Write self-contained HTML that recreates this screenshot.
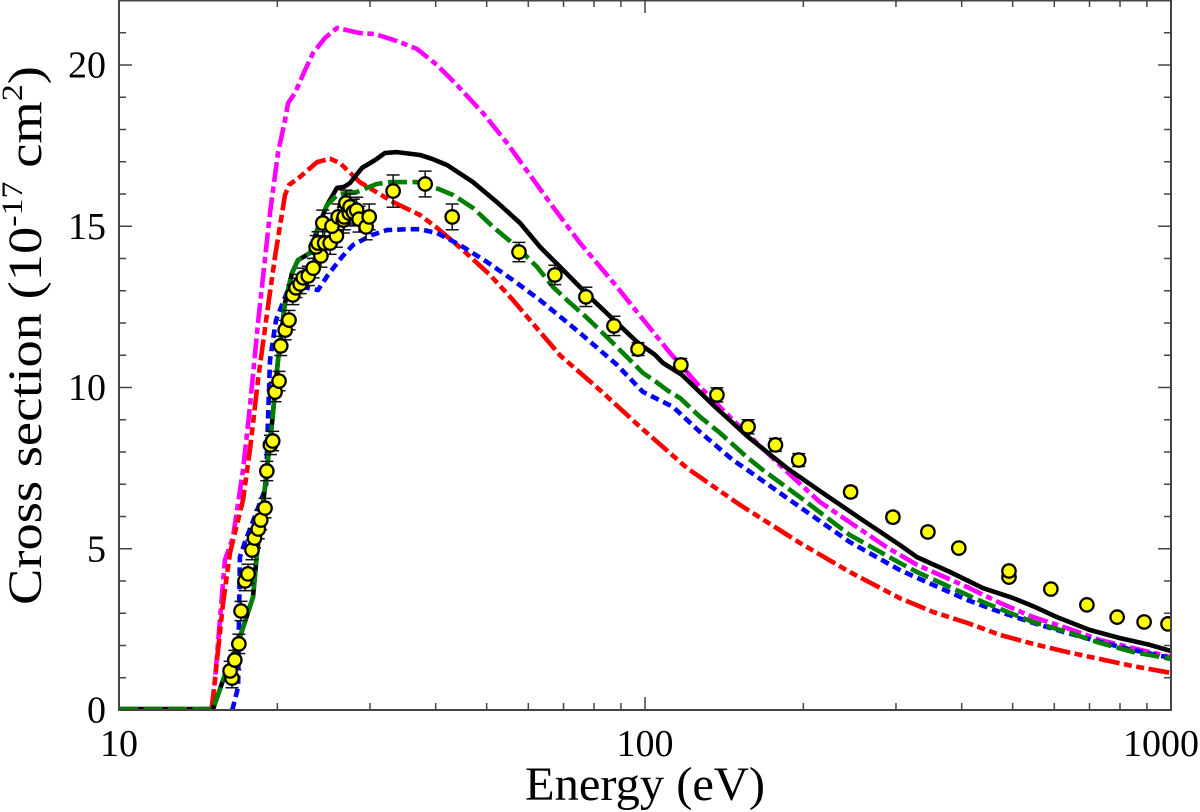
<!DOCTYPE html>
<html>
<head>
<meta charset="utf-8">
<title>Cross section vs energy</title>
<style>
html,body{margin:0;padding:0;background:#fff;}
svg{display:block;}
text{font-family:"Liberation Serif","DejaVu Serif",serif;fill:#000;}
</style>
</head>
<body>
<svg id="chart" xmlns="http://www.w3.org/2000/svg" width="1200" height="812" viewBox="0 0 1200 812">
  <defs><clipPath id="plot-clip"><rect x="119" y="0" width="1052" height="710"/></clipPath></defs>
  <g id="series-layer" clip-path="url(#plot-clip)"></g>
  <g id="points-layer" clip-path="url(#plot-clip)"></g>
  <rect x="119" y="0.5" width="1052" height="709.5" fill="none" stroke="#444" stroke-width="2"/>
  <g id="ticks-layer"></g>
  <g id="labels-layer"></g>
  <text x="645" y="800" font-size="48" text-anchor="middle" textLength="240" lengthAdjust="spacingAndGlyphs">Energy (eV)</text>
  <text transform="translate(41,605) rotate(-90) scale(1.135,1)" font-size="48">Cross section (10<tspan font-size="30" dy="-19">-17</tspan><tspan dy="19"> cm</tspan><tspan font-size="30" dy="-19">2</tspan><tspan dy="19">)</tspan></text>
</svg>
<script>
const pointEnergy = [16.4,16.26,16.6,16.9,17.06,17.36,17.59,17.9,18.1,18.4,18.6,18.95,19.1,19.4,19.6,19.8,20.15,20.3,20.7,21.05,21.4,21.7,22.1,22.4,22.9,23.4,24.2,23.7,23.9,24.6,25.2,25.9,24.4,25.4,26.1,26.7,26.8,27.4,27.0,27.5,27.9,28.3,28.6,29.5,29.9,33.2,38.2,43.0,57.6,67.4,77.2,87.3,97,117,137,157,177,196,246,296,345,395,492,492,591,692,790,889,987];
const pointSigma = [0.99,1.21,1.55,2.05,3.07,4.0,4.22,4.96,5.33,5.61,5.89,6.26,7.41,8.22,8.34,9.86,10.2,11.29,11.78,12.09,12.87,13.09,13.21,13.4,13.46,13.7,14.08,14.36,14.48,14.48,14.48,14.7,15.1,15.0,15.29,15.19,15.29,15.41,15.72,15.6,15.44,15.5,15.22,14.98,15.29,16.09,16.31,15.29,14.2,13.49,12.81,11.91,11.19,10.7,9.77,8.78,8.22,7.75,6.76,5.98,5.52,5.02,4.12,4.31,3.75,3.26,2.88,2.73,2.67];
const pointError = [0.3,0.3,0.3,0.3,0.3,0.3,0.3,0.3,0.3,0.3,0.3,0.3,0.3,0.3,0.3,0.3,0.3,0.3,0.3,0.3,0.3,0.3,0.3,0.3,0.3,0.3,0.35,0.35,0.35,0.35,0.35,0.35,0.4,0.4,0.4,0.4,0.4,0.4,0.4,0.4,0.4,0.4,0.4,0.4,0.4,0.5,0.4,0.4,0.3,0.3,0.3,0.3,0.2,0.2,0.22,0.22,0.2,0.2,0.15,0.15,0.12,0.12,0.1,0.1,0.1,0.1,0.08,0.08,0.08];

const blackEnergy = [10,15.1,15.77,16.98,17.98,18.3,18.95,19.54,20.06,20.68,21.33,21.89,23.07,23.79,24.86,25.97,26.78,27.49,28.97,30.67,32.04,33.77,37.35,39.53,42.03,47.1,52.3,57.86,63.15,68.93,76.24,79.63,96.55,104.5,108.2,117.6,134.7,157,186.2,215,256,305,329,380,439,501,547,607,701,800,912,1000];
const blackSigma = [0.03,0.03,0.93,2.26,3.5,4.87,6.91,8.9,10.85,12.62,13.55,13.95,14.17,14.88,15.66,16.19,16.22,16.34,16.81,17.05,17.27,17.3,17.21,17.08,16.9,16.37,15.75,15.1,14.36,13.74,13.02,12.71,11.41,11.01,10.76,10.39,9.46,8.47,7.5,6.79,5.95,5.12,4.74,4.28,3.78,3.47,3.22,2.88,2.48,2.23,2.02,1.83];

const greenEnergy = [10,15.1,15.77,16.98,17.98,18.3,18.95,19.54,20.06,20.68,21.33,21.89,23.07,23.79,24.86,26.1,28.3,30.9,32.75,36.86,40.4,43.15,47.1,51.4,57.1,62.33,66.84,71.08,77.59,85.81,99.13,104.5,110.1,116.6,127.2,138.9,156.3,167.6,197,245,305,329,380,439,494,547,634,733,847,1000];
const greenSigma = [0.03,0.03,0.93,2.26,3.5,4.87,6.91,8.9,10.85,12.62,13.55,13.95,14.17,14.88,15.66,16.0,16.06,16.31,16.37,16.37,16.16,15.97,15.57,14.98,14.36,13.74,13.12,12.71,12.16,11.47,10.45,10.2,9.92,9.67,9.09,8.59,7.84,7.44,6.6,5.43,4.56,4.28,3.81,3.35,3.01,2.73,2.42,2.08,1.8,1.58];

const blueEnergy = [16.4,16.45,16.84,16.91,16.98,17.36,19.03,19.2,19.37,19.88,20.41,21.14,22.38,23.9,24.97,26.54,27.85,30.27,32.32,35.28,37.35,40.23,44.49,50.08,56.11,63.15,75.24,88.47,99.13,113,127.2,147,156.3,197,245,305,353,410,473,547,634,733,847,983];
const blueSigma = [0,0.05,0.71,2.79,4.74,5.21,6.91,8.99,10.85,12.09,12.56,13.18,13.12,13.02,13.49,14.05,14.42,14.73,14.88,14.91,14.91,14.79,14.42,13.89,13.33,12.71,11.69,10.7,9.86,9.4,8.62,7.75,7.45,6.29,5.21,4.34,3.88,3.41,3.04,2.7,2.39,2.11,1.86,1.64];

const magentaEnergy = [15.0,15.22,15.9,16.47,17.21,17.74,18.38,19.37,20.06,20.68,20.96,21.6,22.57,23.38,24.64,25.97,28.72,30.67,33.77,36.86,40.23,43.9,49.2,54.66,60.45,66.84,75.24,88.47,94.9,111.6,127.2,147,191,215,253,288,329,353,410,473,547,634,733,847,1000];
const magentaSigma = [0,0.93,4.65,5.36,7.44,9.4,12.0,15.41,17.27,18.29,18.82,19.13,19.84,20.37,20.84,21.15,20.99,20.96,20.74,20.5,20.0,19.38,18.51,17.58,16.59,15.6,14.48,13.12,12.5,11.07,10.02,8.99,7.22,6.45,5.67,5.05,4.5,4.28,3.81,3.32,2.88,2.54,2.17,1.92,1.64];

const redEnergy = [15.0,15.1,15.36,15.77,16.26,17.21,17.74,18.38,19.12,19.8,20.68,21.05,22.09,23.79,25.2,26.3,28.7,33.2,37.35,40.23,45.08,50.74,56.11,60.45,68.93,82.12,97.83,120.2,151.6,197,245,305,353,410,473,547,634,733,847,1000];
const redSigma = [0,0.4,1.55,3.32,4.87,6.51,8.06,10.23,12.31,14.05,15.97,16.28,16.53,16.99,17.09,16.96,16.37,15.75,15.35,14.95,14.26,13.49,12.71,12.09,11.0,9.92,8.78,7.5,6.36,5.18,4.28,3.47,3.04,2.7,2.33,2.05,1.8,1.58,1.36,1.15];

const xMajorTicks = [10,100,1000];
const xMinorTicks = [20,30,40,50,60,70,80,90,200,300,400,500,600,700,800,900];
const yMajorTicks = [0,5,10,15,20];
const yMinorTicks = [1,2,3,4,6,7,8,9,11,12,13,14,16,17,18,19,21];
const xTickLabels = ["10","100","1000"];
const yTickLabels = ["0","5","10","15","20"];

const SVGNS = "http://www.w3.org/2000/svg";
function xScale(e){ return 119 + 526 * (Math.log10(e) - 1); }
function yScale(v){ return 710 - 32.25 * v; }

function drawCurve(energy, sigma, color, width, dash, name){
  const pts = energy.map(function(e, i){ return xScale(e).toFixed(1) + "," + yScale(sigma[i]).toFixed(1); }).join(" ");
  const line = document.createElementNS(SVGNS, "polyline");
  line.setAttribute("points", pts);
  line.setAttribute("fill", "none");
  line.setAttribute("stroke", color);
  line.setAttribute("stroke-width", width);
  line.setAttribute("stroke-linejoin", "round");
  if (dash) line.setAttribute("stroke-dasharray", dash);
  
  
  document.getElementById("series-layer").appendChild(line);
}
drawCurve(magentaEnergy, magentaSigma, "#ff00ff", 4.6, "20 4.5 6.5 4.5", "magenta-dash-dot-curve");
drawCurve(redEnergy, redSigma, "#ff0000", 4.6, "21 4.5 8 4.5 8 4.5", "red-dash-dot-dot-curve");
drawCurve(blueEnergy, blueSigma, "#0000ff", 4.6, "8.5 5", "blue-dotted-curve");
drawCurve(blackEnergy, blackSigma, "#000000", 4.6, "", "black-solid-curve");
drawCurve(greenEnergy, greenSigma, "#007f00", 4.6, "19 5.5", "green-dashed-curve");

function addLine(parent, x1, y1, x2, y2, color, width, name){
  const l = document.createElementNS(SVGNS, "line");
  l.setAttribute("x1", x1);
  l.setAttribute("y1", y1);
  l.setAttribute("x2", x2);
  l.setAttribute("y2", y2);
  l.setAttribute("stroke", color);
  l.setAttribute("stroke-width", width);
  
  
  parent.appendChild(l);
}

const pointsLayer = document.getElementById("points-layer");
pointEnergy.forEach(function(e, i){
  const x = xScale(e), y = yScale(pointSigma[i]);
  const top = yScale(pointSigma[i] + pointError[i]), bot = yScale(pointSigma[i] - pointError[i]);
  addLine(pointsLayer, x, top, x, bot, "#111", 1.5, "error-bar");
  addLine(pointsLayer, x - 6.5, top, x + 6.5, top, "#111", 1.5, "error-cap");
  addLine(pointsLayer, x - 6.5, bot, x + 6.5, bot, "#111", 1.5, "error-cap");
});
pointEnergy.forEach(function(e, i){
  const c = document.createElementNS(SVGNS, "circle");
  c.setAttribute("cx", xScale(e));
  c.setAttribute("cy", yScale(pointSigma[i]));
  c.setAttribute("r", 6.7);
  c.setAttribute("fill", "#ffff00");
  c.setAttribute("stroke", "#000");
  c.setAttribute("stroke-width", 2.3);
  
  
  pointsLayer.appendChild(c);
});

const ticksLayer = document.getElementById("ticks-layer");
function xTicks(list, len, name){
  list.forEach(function(v){
    const x = xScale(v);
    addLine(ticksLayer, x, 710, x, 710 - len, "#444", 1.5, name);
    addLine(ticksLayer, x, 0, x, len, "#444", 1.5, name);
  });
}
function yTicks(list, len, name){
  list.forEach(function(v){
    const y = yScale(v);
    addLine(ticksLayer, 119, y, 119 + len, y, "#444", 1.5, name);
    addLine(ticksLayer, 1171, y, 1171 - len, y, "#444", 1.5, name);
  });
}
xTicks(xMajorTicks, 13, "x-major-tick");
xTicks(xMinorTicks, 7, "x-minor-tick");
yTicks(yMajorTicks, 13, "y-major-tick");
yTicks(yMinorTicks, 7, "y-minor-tick");

const labelsLayer = document.getElementById("labels-layer");
xMajorTicks.forEach(function(v, i){
  const t = document.createElementNS(SVGNS, "text");
  const isLast = i === xMajorTicks.length - 1;
  t.setAttribute("x", isLast ? 1199 : xScale(v));
  t.setAttribute("y", 756);
  t.setAttribute("font-size", 38);
  t.setAttribute("text-anchor", isLast ? "end" : "middle");
  t.textContent = xTickLabels[i];
  
  
  labelsLayer.appendChild(t);
});
yMajorTicks.forEach(function(v, i){
  const t = document.createElementNS(SVGNS, "text");
  t.setAttribute("x", 106);
  t.setAttribute("y", yScale(v) + 12.5);
  t.setAttribute("font-size", 38);
  t.setAttribute("text-anchor", "end");
  t.textContent = yTickLabels[i];
  
  
  labelsLayer.appendChild(t);
});
</script>
</body>
</html>
